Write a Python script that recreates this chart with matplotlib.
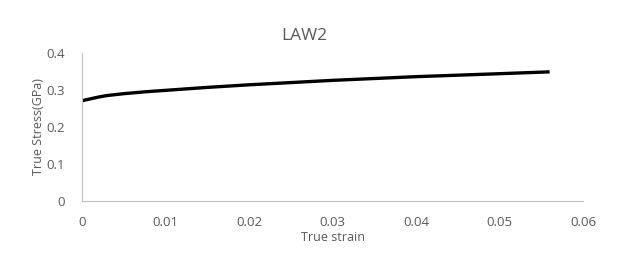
import matplotlib
matplotlib.use("Agg")
import matplotlib.pyplot as plt

strain = [0.0, 0.001, 0.002, 0.003, 0.005, 0.0075, 0.01, 0.015, 0.02, 0.025, 0.03, 0.035, 0.04, 0.045, 0.05, 0.056]
stress = [0.271, 0.276, 0.281, 0.285, 0.290, 0.295, 0.299, 0.307, 0.314, 0.320, 0.326, 0.331, 0.336, 0.340, 0.344, 0.349]
x_ticks = [0, 0.01, 0.02, 0.03, 0.04, 0.05, 0.06]
x_labels = ["0", "0.01", "0.02", "0.03", "0.04", "0.05", "0.06"]
y_ticks = [0, 0.1, 0.2, 0.3, 0.4]
y_labels = ["0", "0.1", "0.2", "0.3", "0.4"]

plt.rcParams['font.family'] = ['Open Sans', 'DejaVu Sans']
txt = '#595959'
fig = plt.figure(figsize=(6.31, 2.61), dpi=100)
ax = fig.add_axes([0.130, 0.230, 0.794, 0.567])
ax.plot(strain, stress, color='black', lw=2.4, solid_capstyle='butt')
ax.set_xlim(0, 0.06)
ax.set_ylim(0, 0.4)
ax.set_xticks(x_ticks)
ax.set_xticklabels(x_labels)
ax.set_yticks(y_ticks)
ax.set_yticklabels(y_labels)
ax.tick_params(axis='x', length=0, labelsize=9.5, colors=txt, pad=11)
ax.tick_params(axis='y', length=0, labelsize=9.5, colors=txt, pad=12)
for s in ['top', 'right']:
    ax.spines[s].set_visible(False)
for s in ['left', 'bottom']:
    ax.spines[s].set_color('#bfbfbf')
    ax.spines[s].set_linewidth(0.8)
ax.set_xlabel('True strain', fontsize=9, color=txt, labelpad=1)
ax.set_ylabel('True Stress(GPa)', fontsize=9, color=txt, labelpad=1)
fig.text(0.483, 0.862, 'LAW2', ha='center', va='center', fontsize=12.5, color=txt)
fig.savefig('out.png', dpi=100)
